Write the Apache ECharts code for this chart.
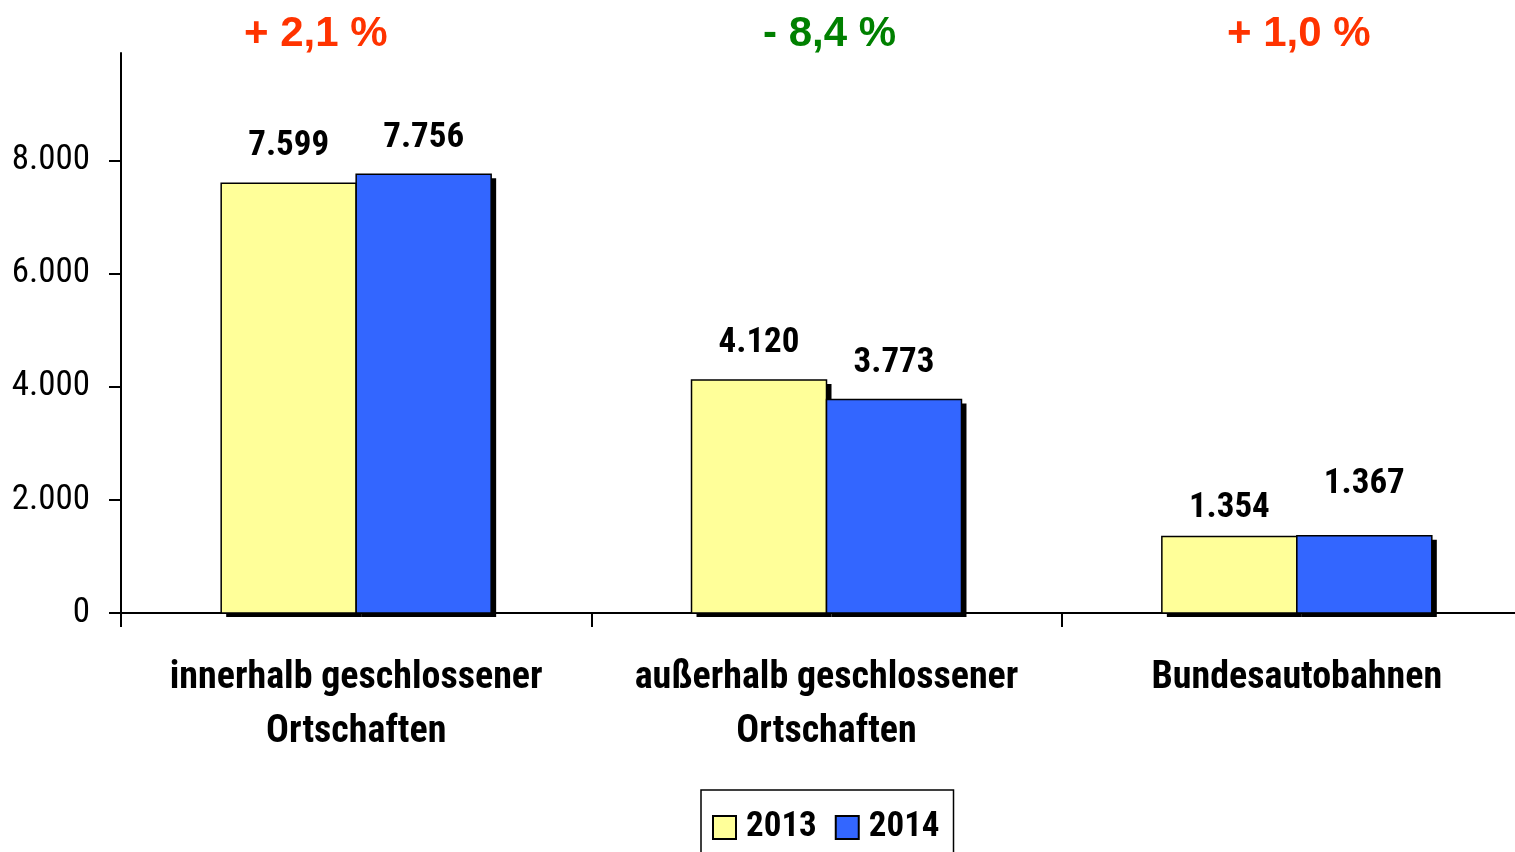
<!DOCTYPE html>
<html>
<head>
<meta charset="utf-8">
<script src="https://cdn.jsdelivr.net/npm/echarts@6/dist/echarts.min.js"></script>
<style>
  html, body { margin: 0; padding: 0; background: #fff; }
  #chart { width: 1515px; height: 852px; }
</style>
</head>
<body>
<div id="chart"></div>
<script>
// Daten
const categories = ['innerhalb geschlossener\nOrtschaften', 'außerhalb geschlossener\nOrtschaften', 'Bundesautobahnen']
const values2013 = [7599, 4120, 1354]
const values2014 = [7756, 3773, 1367]
const changes = ['+ 2,1 %', '- 8,4 %', '+ 1,0 %']
const changeColors = ['#ff3300', '#008000', '#ff3300']
const yTicks = [0, 2000, 4000, 6000, 8000]

// Abstand Beschriftung -> Balken (wie im Original, nicht einheitlich)
const labelGap2013 = [26, 26, 18]
const labelGap2014 = [26, 26, 41]

const narrow = "'Roboto Condensed', 'Open Sans Condensed', sans-serif"

// Tausenderpunkt
const fmt = (v) => String(v).replace(/\B(?=(\d{3})+(?!\d))/g, '.')

const chart = echarts.init(document.getElementById('chart'))

// Balken mit hartem Schatten rechts unten
const barSeries = (name, data, color, side, gaps) => ({
  name: name,
  type: 'custom',
  data: data.map((v, i) => [i, v]),
  encode: { x: 0, y: 1 },
  itemStyle: { color: color, borderColor: '#000', borderWidth: 1.5 },
  renderItem: (params, api) => {
    const cat = api.value(0)
    const val = api.value(1)
    const base = api.coord([cat, 0])
    const top = api.coord([cat, val])
    const w = api.size([1, 0])[0] * 0.287
    const x = side === 0 ? base[0] - w : base[0]
    const h = base[1] - top[1]
    return {
      type: 'group',
      children: [
        { type: 'rect', shape: { x: x + 5, y: top[1] + 4, width: w, height: h }, style: { fill: '#000' } },
        { type: 'rect', shape: { x: x, y: top[1], width: w, height: h }, style: { fill: color, stroke: '#000', lineWidth: 1.5 } },
        {
          type: 'text',
          x: x + w / 2,
          y: top[1] - gaps[params.dataIndex] + 7,
          style: {
            text: fmt(val),
            align: 'center',
            verticalAlign: 'bottom',
            fill: '#000',
            font: "bold 35px " + narrow
          }
        }
      ]
    }
  }
})

chart.setOption({
  animation: false,
  grid: {
    left: 121,
    top: 53,
    bottom: 239,
    right: -17,
    outerBoundsMode: 'none'
  },
  legend: {
    data: ['2013', '2014'],
    top: 790,
    left: 701,
    icon: 'rect',
    borderColor: '#000',
    borderWidth: 1.5,
    padding: [20, 14, 40, 11],
    itemWidth: 23,
    itemHeight: 23,
    itemGap: 18,
    textStyle: {
      fontFamily: narrow,
      fontWeight: 'bold',
      fontSize: 35,
      color: '#000',
      padding: [0, 0, 0, 5]
    }
  },
  graphic: changes.map((t, i) => ({
    type: 'text',
    left: [244, 763, 1227][i],
    top: 13,
    style: {
      text: t,
      fill: changeColors[i],
      font: "bold 42px 'Liberation Sans', Arial, sans-serif"
    }
  })),
  xAxis: {
    type: 'category',
    data: categories,
    axisLine: { lineStyle: { color: '#000', width: 2 } },
    axisTick: { show: true, length: 14, lineStyle: { color: '#000', width: 2 } },
    axisLabel: {
      color: '#000',
      fontFamily: narrow,
      fontWeight: 'bold',
      fontSize: 38,
      lineHeight: 54,
      margin: 38,
      interval: 0
    }
  },
  yAxis: {
    type: 'value',
    min: 0,
    max: 9900,
    interval: 2000,
    splitLine: { show: false },
    axisLine: { show: true, lineStyle: { color: '#000', width: 2 } },
    axisTick: { show: true, length: 12, customValues: yTicks, lineStyle: { color: '#000', width: 2 } },
    axisLabel: {
      color: '#000',
      fontFamily: narrow,
      fontSize: 35,
      margin: 31,
      customValues: yTicks,
      formatter: (v) => fmt(v)
    }
  },
  series: [
    barSeries('2013', values2013, '#ffff99', 0, labelGap2013),
    barSeries('2014', values2014, '#3366ff', 1, labelGap2014)
  ]
})
</script>
</body>
</html>
